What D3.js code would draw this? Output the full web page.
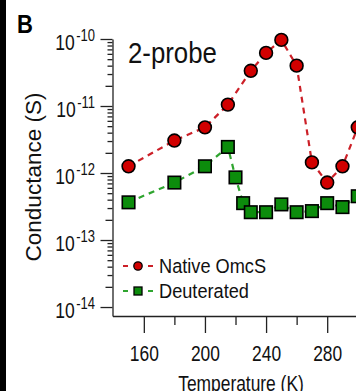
<!DOCTYPE html>
<html>
<head>
<meta charset="utf-8">
<script src="https://cdn.jsdelivr.net/npm/d3@7"></script>
<style>
body { margin: 0; background: #fff; }
svg { display: block; font-family: "Liberation Sans", Arial, Helvetica, sans-serif; }
</style>
</head>
<body>
<script>
// data
let nativeTemps = [150, 180, 200, 215, 230, 240, 250, 260, 270, 280, 290, 300];
let nativeG = [1.26e-12, 3.05e-12, 4.8e-12, 1.05e-11, 3.35e-11, 6.2e-11, 9.7e-11, 4.0e-11, 1.44e-12, 7.2e-13, 1.26e-12, 4.8e-12];
let deutTemps = [150, 180, 200, 215, 220, 225, 230, 240, 250, 260, 270, 280, 290, 300];
let deutG = [3.65e-13, 7.2e-13, 1.26e-12, 2.45e-12, 8.6e-13, 3.55e-13, 2.6e-13, 2.6e-13, 3.4e-13, 2.6e-13, 2.7e-13, 3.55e-13, 3.1e-13, 4.5e-13];
let xTicks = [160, 180, 200, 220, 240, 260, 280, 300];
let xLabels = [160, 200, 240, 280];
let decades = [-14, -13, -12, -11, -10];
let seriesNames = ["Native OmcS", "Deuterated"];

let width = 356, height = 391;
let red = "#d10000", redLine = "#cc2028";
let green = "#0c8c0c", greenLine = "#2fa52f";

let svg = d3.select("body").append("svg")
    .attr("width", width)
    .attr("height", height);

// black strip at the left edge
svg.append("rect")
    .attr("x", 0).attr("y", 0)
    .attr("width", 6).attr("height", height)
    .attr("fill", "#000");

let x = d3.scaleLinear()
    .domain([139.5, 330])
    .range([112.5, 403.6]);

let y = d3.scaleLog()
    .domain([Math.pow(10, -14.134), 1e-10])
    .range([316, 39]);

// y tick values: decades plus minor 2..9
let yTickVals = [];
decades.forEach(d => {
    if (d === -10) { yTickVals.push(1e-10); return; }
    for (let k = 1; k <= 9; k++) yTickVals.push(k * Math.pow(10, d));
});
let isMajor = v => Math.abs(Math.log10(v) - Math.round(Math.log10(v))) < 1e-6;
let isTwo = v => Math.abs(Math.log10(v / 2) - Math.round(Math.log10(v / 2))) < 1e-6;

// x axis
let xAxisG = svg.append("g")
    .attr("transform", "translate(0,316)")
    .call(d3.axisBottom(x)
        .tickValues(xTicks)
        .tickSizeOuter(0)
        .tickFormat(d => xLabels.includes(d) ? d : ""));

xAxisG.selectAll(".tick line")
    .attr("y2", d => xLabels.includes(d) ? 17 : 9);

xAxisG.selectAll(".tick text")
    .attr("y", null).attr("dy", null)
    .attr("transform", "translate(0,45) scale(1,1.25)")
    .attr("font-size", 17.4)
    .attr("font-family", null)
    .attr("fill", "#111");

// y axis
let yAxisG = svg.append("g")
    .attr("transform", "translate(112.5,0)")
    .call(d3.axisLeft(y)
        .tickValues(yTickVals)
        .tickSizeOuter(0)
        .tickFormat(""));

yAxisG.selectAll(".tick line")
    .attr("x2", d => isMajor(d) ? -12 : (isTwo(d) ? -7 : -5));

yAxisG.selectAll(".tick text")
    .filter(d => isMajor(d))
    .attr("x", null).attr("dy", null)
    .attr("transform", "translate(-17.5,10) scale(1,1.23)")
    .attr("font-family", null)
    .attr("fill", "#111")
    .each(function(d) {
        let t = d3.select(this);
        t.append("tspan").attr("font-size", 17.5).text("10");
        t.append("tspan")
            .attr("font-size", 13)
            .attr("dx", 1.5)
            .attr("dy", -7)
            .text(String(Math.round(Math.log10(d))));
    });

svg.selectAll(".domain, .tick line")
    .attr("stroke", "#222")
    .attr("stroke-width", 1.3);

// lines
let line = d3.line()
    .x(d => x(d[0]))
    .y(d => y(d[1]));

let nativePts = nativeTemps.map((t, i) => [t, nativeG[i]]);
let deutPts = deutTemps.map((t, i) => [t, deutG[i]]);

svg.append("path")
    .datum(deutPts)
    .attr("d", line)
    .attr("fill", "none")
    .attr("stroke", greenLine)
    .attr("stroke-width", 2.2)
    .attr("stroke-dasharray", "6,5");

svg.append("path")
    .datum(nativePts)
    .attr("d", line)
    .attr("fill", "none")
    .attr("stroke", redLine)
    .attr("stroke-width", 2.2)
    .attr("stroke-dasharray", "6,5");

let sq = 12.5;
svg.selectAll(".deut")
    .data(deutPts)
    .enter().append("rect")
    .attr("class", "deut")
    .attr("x", d => x(d[0]) - sq / 2)
    .attr("y", d => y(d[1]) - sq / 2)
    .attr("width", sq).attr("height", sq)
    .attr("fill", green)
    .attr("stroke", "#000")
    .attr("stroke-width", 1.6);

svg.selectAll(".native")
    .data(nativePts)
    .enter().append("circle")
    .attr("class", "native")
    .attr("cx", d => x(d[0]))
    .attr("cy", d => y(d[1]))
    .attr("r", 6.4)
    .attr("fill", red)
    .attr("stroke", "#000")
    .attr("stroke-width", 1.6);

// legend
let legendY = [266, 291];
let legendCol = [redLine, greenLine];
seriesNames.forEach((name, i) => {
    let g = svg.append("g").attr("transform", `translate(0,${legendY[i]})`);
    g.append("line")
        .attr("x1", 123).attr("x2", 153)
        .attr("stroke", legendCol[i])
        .attr("stroke-width", 2.2)
        .attr("stroke-dasharray", "5,20");
    if (i === 0) {
        g.append("circle")
            .attr("cx", 138).attr("cy", 0).attr("r", 4.2)
            .attr("fill", red).attr("stroke", "#000").attr("stroke-width", 1.3);
    } else {
        g.append("rect")
            .attr("x", 134).attr("y", -4).attr("width", 8).attr("height", 8)
            .attr("fill", green).attr("stroke", "#000").attr("stroke-width", 1.3);
    }
    g.append("text")
        .attr("transform", "translate(159,6.5) scale(1,1.07)")
        .attr("font-size", 18.2)
        .attr("fill", "#111")
        .text(name);
});

// title and panel letter
svg.append("text")
    .attr("transform", "translate(128,63) scale(1,1.14)")
    .attr("font-size", 25.8)
    .attr("fill", "#111")
    .text("2-probe");

svg.append("text")
    .attr("transform", "translate(17,33) scale(1,1.15)")
    .attr("font-size", 22)
    .attr("font-weight", "bold")
    .attr("fill", "#000")
    .text("B");

// axis titles
svg.append("text")
    .attr("transform", "translate(241,391) scale(1,1.22)")
    .attr("text-anchor", "middle")
    .attr("font-size", 17.4)
    .attr("fill", "#111")
    .text("Temperature (K)");

svg.append("text")
    .attr("transform", "translate(41,177) rotate(-90)")
    .attr("text-anchor", "middle")
    .attr("font-size", 22.5)
    .attr("fill", "#111")
    .text("Conductance (S)");
</script>
</body>
</html>
